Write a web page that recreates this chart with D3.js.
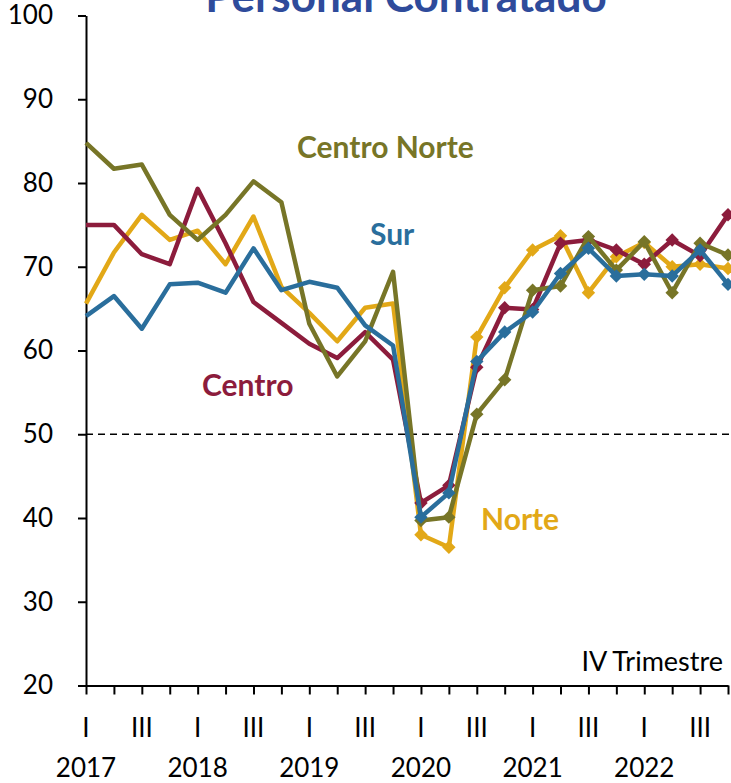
<!DOCTYPE html>
<html>
<head>
<meta charset="utf-8">
<script src="https://cdn.jsdelivr.net/npm/d3@7"></script>
<style>
    body { margin: 0; background: #fff; }
    #chart { width: 731px; height: 783px; }
    text { font-family: Lato, "Open Sans", sans-serif; }
</style>
</head>
<body>
<div id="chart"></div>
<script>

var quarters = ['I', 'II', 'III', 'IV'];
var years = ['2017', '2018', '2019', '2020', '2021', '2022'];
var shownQuarters = ['I', 'III'];

var yTicks = [20, 30, 40, 50, 60, 70, 80, 90, 100];
var threshold = 50;

var centroNorte = [84.8, 81.7, 82.2, 76.2, 73.2, 76.2, 80.2, 77.7, 63.2, 56.9, 61.1, 69.4,
                   39.7, 40.1, 52.4, 56.5, 67.2, 67.7, 73.6, 69.6, 73.0, 66.9, 72.8, 71.4];
var centro = [75.0, 75.0, 71.5, 70.3, 79.3, 72.8, 65.8, 63.3, 60.8, 59.1, 62.2, 58.9,
              41.8, 43.9, 58.0, 65.1, 64.9, 72.8, 73.2, 72.0, 70.3, 73.2, 71.3, 76.2];
var sur = [64.1, 66.5, 62.6, 67.9, 68.1, 66.9, 72.2, 67.2, 68.2, 67.5, 63.0, 60.6,
           40.1, 43.0, 58.7, 62.2, 64.6, 69.2, 72.2, 68.9, 69.1, 68.9, 72.0, 67.9];
var norte = [65.6, 71.7, 76.2, 73.2, 74.3, 70.3, 76.0, 67.6, 64.5, 61.1, 65.1, 65.6,
             38.0, 36.5, 61.6, 67.5, 72.0, 73.7, 66.9, 71.2, 72.9, 70.0, 70.3, 69.8];

// markers only from 2020 I onwards
var firstMarker = 12;


class RegionChart {

    constructor() {

        this._periods = [];
        years.forEach(y => quarters.forEach(q => this._periods.push({ year: y, quarter: q, key: y + '-' + q })));

        this._series = [
            { name: 'Norte', values: norte, color: '#e2a817', label: [481, 530] },
            { name: 'Centro', values: centro, color: '#8c1c3c', label: [202, 396] },
            { name: 'Centro Norte', values: centroNorte, color: '#777527', label: [297, 158] },
            { name: 'Sur', values: sur, color: '#2a6e9c', label: [370, 245] }
        ];

        this._margin = { left: 86, top: 15.5, right: 3, bottom: 97.5 };
        this._width = 731;
        this._height = 783;
    }


    renderTo(selector) {

        var svg = d3.select(selector)
            .append('svg')
            .attr('width', this._width)
            .attr('height', this._height);

        var x = d3.scalePoint()
            .domain(this._periods.map(d => d.key))
            .range([this._margin.left, this._width - this._margin.right]);

        var y = d3.scaleLinear()
            .domain([20, 100])
            .range([this._height - this._margin.bottom, this._margin.top]);

        svg.append('text')
            .attr('x', 406)
            .attr('y', 12)
            .attr('text-anchor', 'middle')
            .style('font-size', '44px')
            .style('font-weight', 'bold')
            .style('fill', '#2e4b9b')
            .text('Personal Contratado');

        // y axis
        var yAxis = svg.append('g')
            .attr('transform', 'translate(' + this._margin.left + ',0)')
            .call(d3.axisLeft(y).tickValues(yTicks).tickSize(8).tickSizeOuter(0).tickPadding(25));
        yAxis.selectAll('line, path').style('stroke', '#000').style('stroke-width', 2);
        yAxis.selectAll('text')
            .style('font-size', '26px')
            .style('font-family', 'Lato, sans-serif')
            .style('fill', '#000');

        // x axis
        var xAxis = svg.append('g')
            .attr('transform', 'translate(0,' + y(20) + ')')
            .call(d3.axisBottom(x).tickSize(9).tickSizeOuter(0).tickFormat(''));
        xAxis.selectAll('line, path').style('stroke', '#000').style('stroke-width', 2);

        svg.append('g')
            .selectAll('text')
            .data(this._periods.filter(d => shownQuarters.includes(d.quarter)))
            .enter()
            .append('text')
            .attr('x', d => x(d.key))
            .attr('y', 737)
            .attr('text-anchor', 'middle')
            .style('font-size', '26px')
            .text(d => d.quarter);

        svg.append('g')
            .selectAll('text')
            .data(this._periods.filter(d => d.quarter == 'I'))
            .enter()
            .append('text')
            .attr('x', d => x(d.key))
            .attr('y', 777)
            .attr('text-anchor', 'middle')
            .style('font-size', '26px')
            .text(d => d.year);

        svg.append('line')
            .attr('x1', this._margin.left)
            .attr('x2', this._width)
            .attr('y1', y(threshold))
            .attr('y2', y(threshold))
            .style('stroke', '#000')
            .style('stroke-width', 1.5)
            .style('stroke-dasharray', '7,5');

        svg.append('text')
            .attr('x', 723)
            .attr('y', 671)
            .attr('text-anchor', 'end')
            .style('font-size', '27px')
            .text('IV Trimestre');

        var line = d3.line()
            .x((d, i) => x(this._periods[i].key))
            .y(d => y(d));

        var diamond = d3.symbol().type(d3.symbolSquare).size(90);

        this._series.forEach(function(s) {
            var g = svg.append('g').attr('class', 'series');

            g.append('path')
                .datum(s.values)
                .attr('d', line)
                .style('fill', 'none')
                .style('stroke', s.color)
                .style('stroke-width', 4.5)
                .style('stroke-linejoin', 'round');

            g.selectAll('path.marker')
                .data(s.values.map((v, i) => ({ v: v, i: i })).filter(d => d.i >= firstMarker))
                .enter()
                .append('path')
                .attr('class', 'marker')
                .attr('d', diamond)
                .attr('transform', d => 'translate(' + [x(this._periods[d.i].key), y(d.v)] + ') rotate(45)')
                .style('fill', s.color);

            svg.append('text')
                .attr('x', s.label[0])
                .attr('y', s.label[1])
                .style('font-size', '30px')
                .style('font-weight', 'bold')
                .style('fill', s.color)
                .text(s.name);
        }.bind(this));

        return this;
    }
}

new RegionChart().renderTo('#chart');

</script>
</body>
</html>
